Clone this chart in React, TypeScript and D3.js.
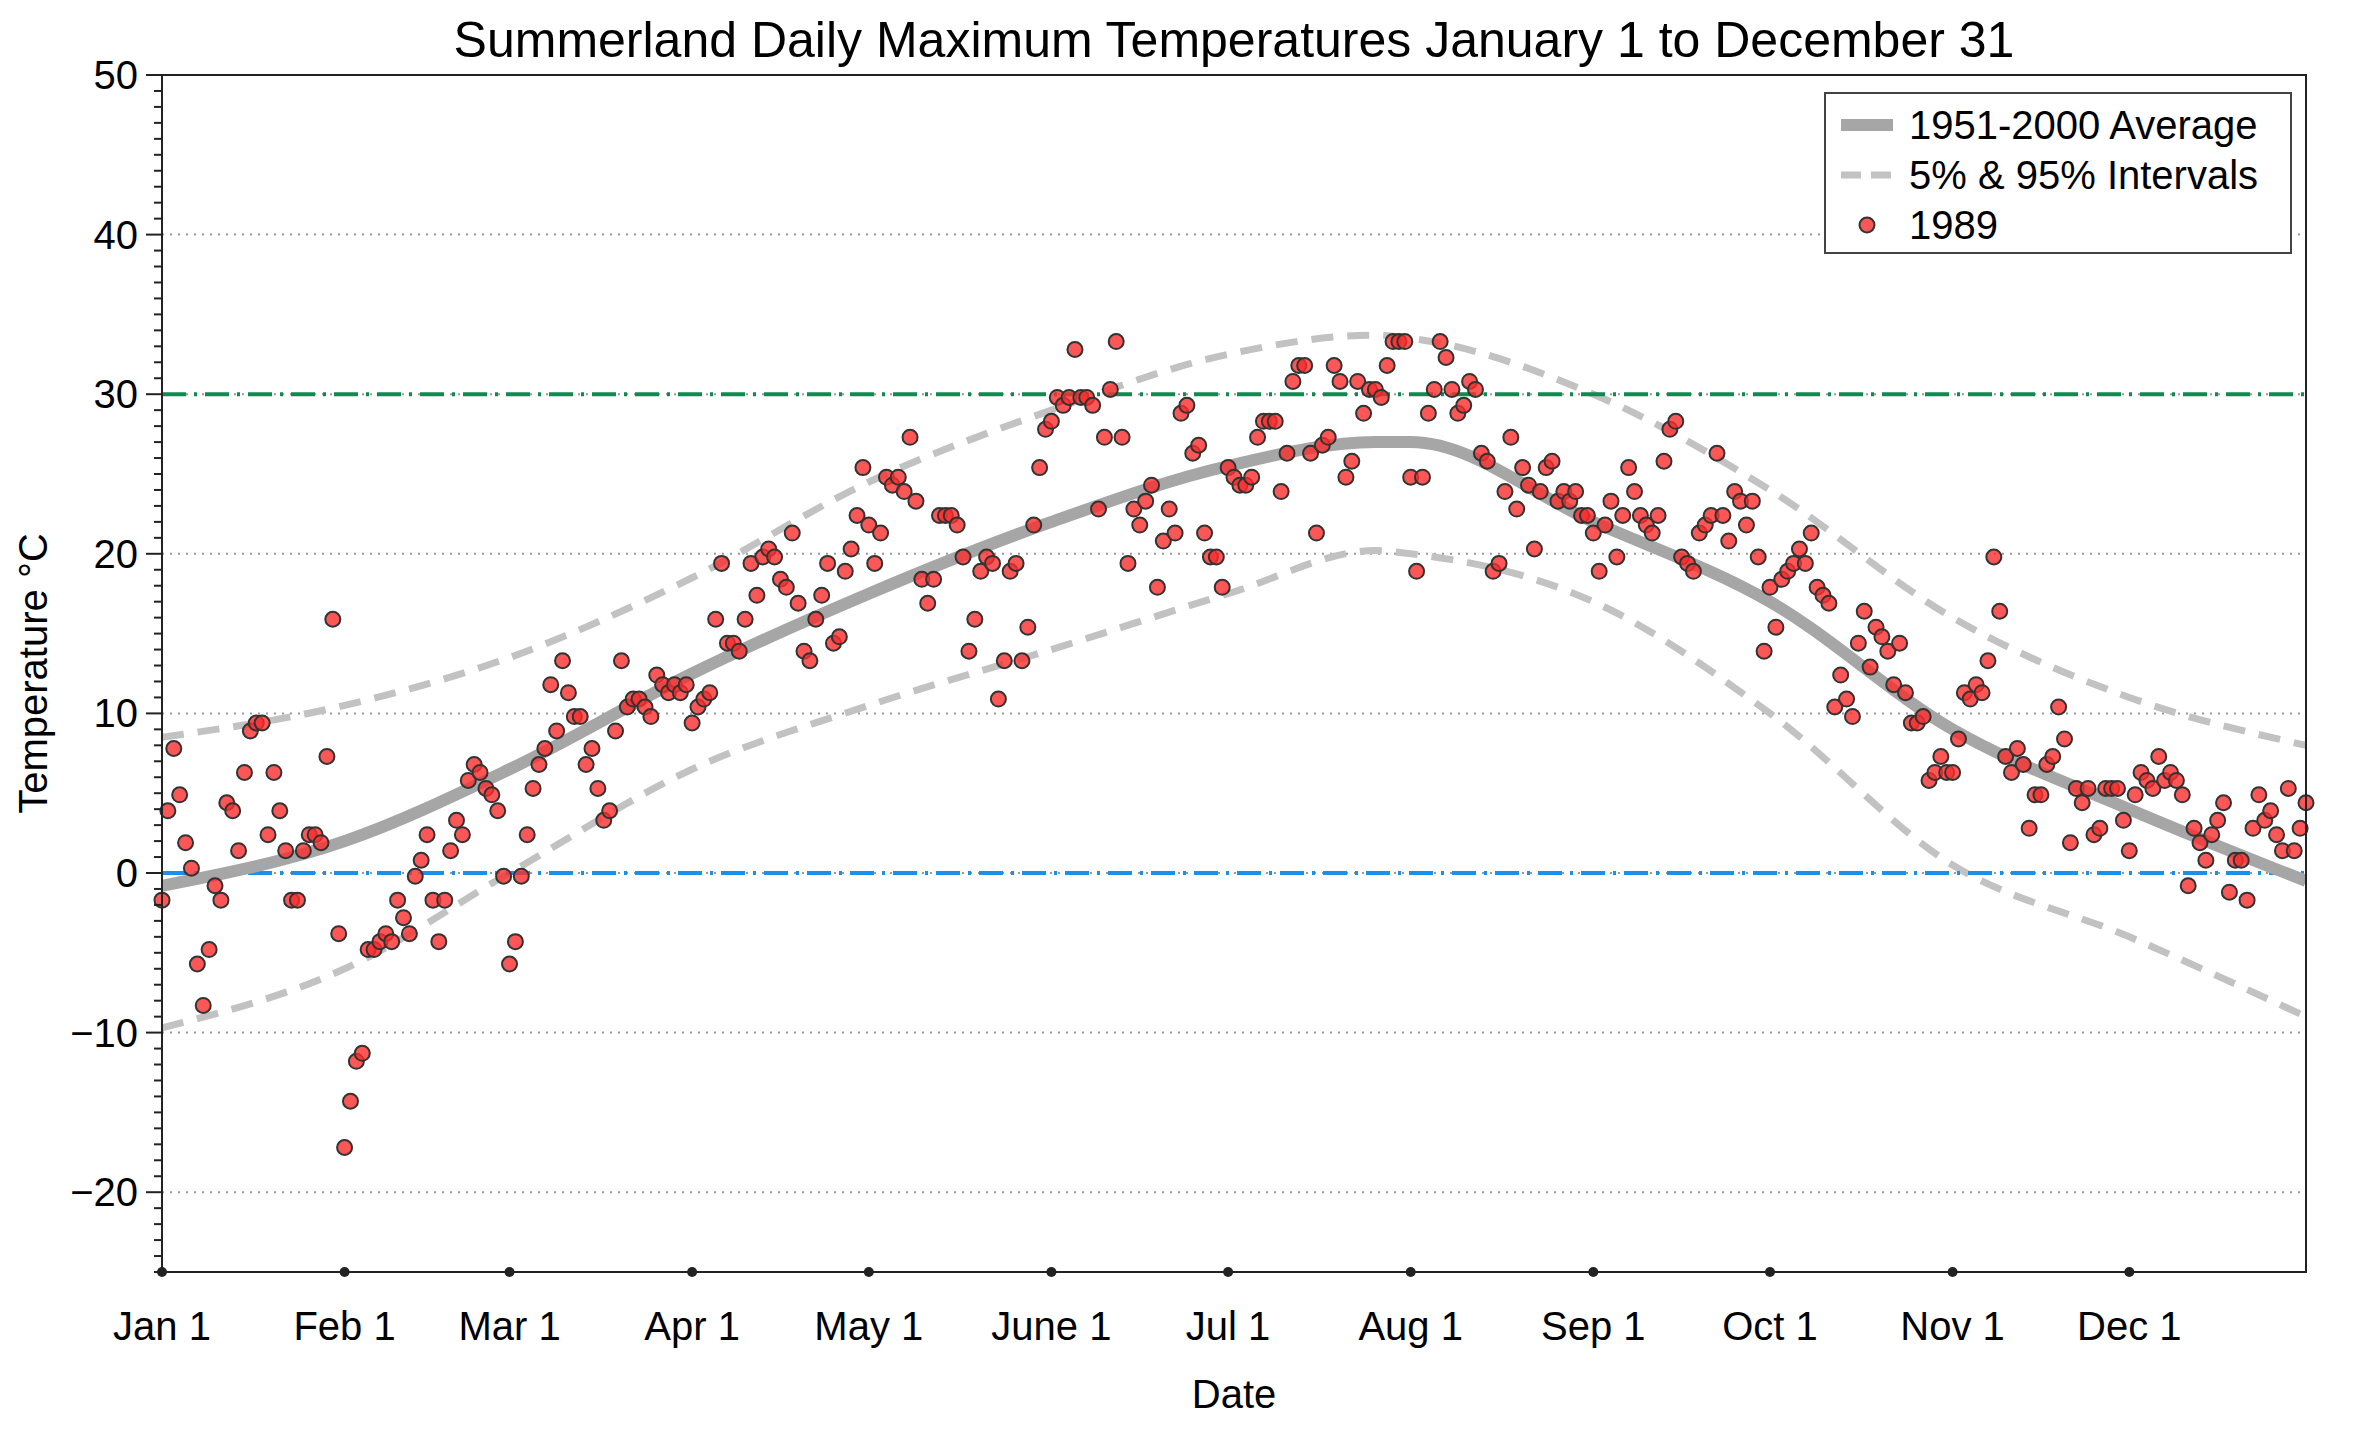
import React from "react";
import * as d3 from "d3";

const jan = [-1.7,3.9,7.8,4.9,1.9,0.3,-5.7,-8.3,-4.8,-0.8,-1.7,4.4,3.9,1.4,6.3,8.9,9.4,9.4,2.4,6.3,3.9,1.4,-1.7,-1.7,1.4,2.4,2.4,1.9,7.3,15.9,-3.8];
const feb = [-17.2,-14.3,-11.8,-11.3,-4.8,-4.8,-4.3,-3.8,-4.3,-1.7,-2.8,-3.8,-0.2,0.8,2.4,-1.7,-4.3,-1.7,1.4,3.3,2.4,5.8,6.8,6.3,5.3,4.9,3.9,-0.2];
const mar = [-5.7,-4.3,-0.2,2.4,5.3,6.8,7.8,11.8,8.9,13.3,11.3,9.8,9.8,6.8,7.8,5.3,3.3,3.9,8.9,13.3,10.4,10.9,10.9,10.4,9.8,12.4,11.8,11.3,11.8,11.3,11.8];
const apr = [9.4,10.4,10.9,11.3,15.9,19.4,14.4,14.4,13.9,15.9,19.4,17.4,19.8,20.3,19.8,18.4,17.9,21.3,16.9,13.9,13.3,15.9,17.4,19.4,14.4,14.8,18.9,20.3,22.4,25.4];
const may = [21.8,19.4,21.3,24.8,24.3,24.8,23.9,27.3,23.3,18.4,16.9,18.4,22.4,22.4,22.4,21.8,19.8,13.9,15.9,18.9,19.8,19.4,10.9,13.3,18.9,19.4,13.3,15.4,21.8,25.4,27.8];
const jun = [28.3,29.8,29.3,29.8,32.8,29.8,29.8,29.3,22.8,27.3,30.3,33.3,27.3,19.4,22.8,21.8,23.3,24.3,17.9,20.8,22.8,21.3,28.8,29.3,26.3,26.8,21.3,19.8,19.8,17.9];
const jul = [25.4,24.8,24.3,24.3,24.8,27.3,28.3,28.3,28.3,23.9,26.3,30.8,31.8,31.8,26.3,21.3,26.8,27.3,31.8,30.8,24.8,25.8,30.8,28.8,30.3,30.3,29.8,31.8,33.3,33.3,33.3];
const aug = [24.8,18.9,24.8,28.8,30.3,33.3,32.3,30.3,28.8,29.3,30.8,30.3,26.3,25.8,18.9,19.4,23.9,27.3,22.8,25.4,24.3,20.3,23.9,25.4,25.8,23.3,23.9,23.3,23.9,22.4,22.4];
const sep = [21.3,18.9,21.8,23.3,19.8,22.4,25.4,23.9,22.4,21.8,21.3,22.4,25.8,27.8,28.3,19.8,19.4,18.9,21.3,21.8,22.4,26.3,22.4,20.8,23.9,23.3,21.8,23.3,19.8,13.9];
const oct = [17.9,15.4,18.4,18.9,19.4,20.3,19.4,21.3,17.9,17.4,16.9,10.4,12.4,10.9,9.8,14.4,16.4,12.9,15.4,14.8,13.9,11.8,14.4,11.3,9.4,9.4,9.8,5.8,6.3,7.3,6.3];
const nov = [6.3,8.4,11.3,10.9,11.8,11.3,13.3,19.8,16.4,7.3,6.3,7.8,6.8,2.8,4.9,4.9,6.8,7.3,10.4,8.4,1.9,5.3,4.4,5.3,2.4,2.8,5.3,5.3,5.3,3.3];
const dec = [1.4,4.9,6.3,5.8,5.3,7.3,5.8,6.3,5.8,4.9,-0.8,2.8,1.9,0.8,2.4,3.3,4.4,-1.2,0.8,0.8,-1.7,2.8,4.9,3.3,3.9,2.4,1.4,5.3,1.4,2.8,4.4];
const temps1989 = [...jan, ...feb, ...mar, ...apr, ...may, ...jun, ...jul, ...aug, ...sep, ...oct, ...nov, ...dec];

const monthLabels = ["Jan 1","Feb 1","Mar 1","Apr 1","May 1","June 1","Jul 1","Aug 1","Sep 1","Oct 1","Nov 1","Dec 1"];
const monthStarts = [0,31,59,90,120,151,181,212,243,273,304,334];

const curveDays = [0,31,59,90,120,151,181,206,212,243,273,304,334,364];
const avgVals = [-0.8,2,6.5,12.5,17.5,22,25.5,27,27,22,17,9,4,-0.5];
const upperVals = [8.5,10.5,13.5,18.5,24.5,29,32.5,33.7,33.5,30,24,16,11,8];
const lowerVals = [-9.7,-6,0,6.5,10.5,14,17.5,20.2,20,17,10,0.5,-4,-9];

const yTicks = [-20,-10,0,10,20,30,40,50];

export default function App() {
  const W = 2360, H = 1432;
  const L = 162, R = 2306, T = 75, B = 1272;
  const x = d3.scaleLinear().domain([0, 364]).range([L, R]);
  const y = d3.scaleLinear().domain([-25, 50]).range([B, T]);
  const line = (vals: number[]) =>
    d3.line<number>().x((_, i) => x(curveDays[i])).y(v => y(v)).curve(d3.curveMonotoneX)(vals) || "";
  const minor = d3.range(-25, 51, 1);
  const font = "'Liberation Sans', Arial, sans-serif";
  const fs = 40;
  return (
    <svg width={W} height={H} style={{ position: "absolute", left: 0, top: 0, background: "#fff" }} fontFamily={font}>
      <defs>
        <clipPath id="clip"><rect x={L} y={T} width={R - L} height={B - T} /></clipPath>
      </defs>
      <rect x={0} y={0} width={W} height={H} fill="#fff" />
      <text x={(L + R) / 2} y={57} textAnchor="middle" fontSize={50}>Summerland Daily Maximum Temperatures January 1 to December 31</text>
      {yTicks.filter(t => t > -25 && t < 50).map(t => (
        <line key={t} x1={L} x2={R} y1={y(t)} y2={y(t)} stroke="#999" strokeWidth={2} strokeDasharray="2,6" />
      ))}
      <g clipPath="url(#clip)">
        <path d={line(upperVals)} fill="none" stroke="#c2c2c2" strokeWidth={7} strokeDasharray="22,14" />
        <path d={line(lowerVals)} fill="none" stroke="#c2c2c2" strokeWidth={7} strokeDasharray="22,14" />
        <line x1={L} x2={R} y1={y(30)} y2={y(30)} stroke="#118a50" strokeWidth={4} strokeDasharray="24,8,3,8" />
        <line x1={L} x2={R} y1={y(0)} y2={y(0)} stroke="#1a90ee" strokeWidth={4} strokeDasharray="24,8,3,8" />
        <path d={line(avgVals)} fill="none" stroke="#a6a6a6" strokeWidth={12} />
      </g>
      {temps1989.map((v, i) => (
        <circle key={i} cx={x(i)} cy={y(v)} r={7.5} fill="rgba(250,45,45,0.8)" stroke="#333" strokeWidth={2} />
      ))}
      <rect x={L} y={T} width={R - L} height={B - T} fill="none" stroke="#222" strokeWidth={2} />
      {minor.map(t => (
        <line key={t} x1={L} x2={L - (t % 10 === 0 ? 16 : 8)} y1={y(t)} y2={y(t)} stroke="#222" strokeWidth={2} />
      ))}
      {yTicks.map(t => (
        <text key={t} x={L - 24} y={y(t) + 14} textAnchor="end" fontSize={fs}>{t < 0 ? "\u2212" + Math.abs(t) : t}</text>
      ))}
      {monthStarts.map((d, i) => (
        <g key={i}>
          <circle cx={x(d)} cy={B} r={5} fill="#222" />
          <text x={x(d)} y={1340} textAnchor="middle" fontSize={fs}>{monthLabels[i]}</text>
        </g>
      ))}
      <text x={(L + R) / 2} y={1408} textAnchor="middle" fontSize={fs}>Date</text>
      <text transform={`translate(47,${(T + B) / 2}) rotate(-90)`} textAnchor="middle" fontSize={fs}>Temperature °C</text>
      <g>
        <rect x={1825} y={93} width={466} height={160} fill="#fff" stroke="#444" strokeWidth={2} />
        <line x1={1841} x2={1893} y1={125} y2={125} stroke="#a6a6a6" strokeWidth={12} />
        <text x={1909} y={139} fontSize={fs}>1951-2000 Average</text>
        <line x1={1841} x2={1893} y1={175} y2={175} stroke="#c2c2c2" strokeWidth={7} strokeDasharray="20,10" />
        <text x={1909} y={189} fontSize={fs}>5% &amp; 95% Intervals</text>
        <circle cx={1867} cy={225} r={7.5} fill="rgba(250,45,45,0.8)" stroke="#333" strokeWidth={2} />
        <text x={1909} y={239} fontSize={fs}>1989</text>
      </g>
    </svg>
  );
}
